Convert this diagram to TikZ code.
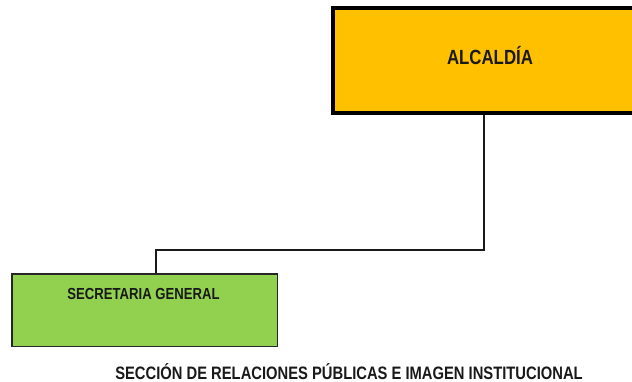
\documentclass[tikz,border=0pt]{standalone}
\usepackage{fontspec}
\setmainfont{Liberation Sans}[FakeStretch=0.82]
\definecolor{alcfill}{HTML}{FFC000}
\definecolor{secfill}{HTML}{92D050}
\tikzset{
  boxalc/.style={draw=black, line width=4pt, fill=alcfill, minimum width=302pt, minimum height=105pt, inner sep=0pt},
  boxsec/.style={draw=black!85, line width=1.5pt, fill=secfill, minimum width=265.5pt, minimum height=72.5pt, inner sep=0pt},
  conn/.style={draw=black!90, line width=2pt},
  lbl/.style={text=black!90, inner sep=0pt, anchor=base}
}
\begin{document}
\begin{tikzpicture}[x=1pt, y=-1pt]
\clip (0,0) rectangle (632,382);
\fill[white] (0,0) rectangle (632,382);
\node[boxalc] (alc) at (484,60.5) {};
\node[lbl, font=\fontsize{20.5}{22}\selectfont\bfseries] (alctxt) at (490,65) {ALCALDÍA};
\node[boxsec] (sec) at (144.5,310) {};
\node[lbl, font=\fontsize{16}{18}\selectfont\bfseries] (sectxt) at (143.5,299) {SECRETARIA GENERAL};
\coordinate (k1) at (156,250);
\draw[conn] (alc.south) |- (k1) -- (k1 |- sec.north);
\node[lbl, font=\fontsize{18}{20}\selectfont\bfseries] (titulo) at (349,379.5) {SECCIÓN DE RELACIONES PÚBLICAS E IMAGEN INSTITUCIONAL};
\end{tikzpicture}
\end{document}
